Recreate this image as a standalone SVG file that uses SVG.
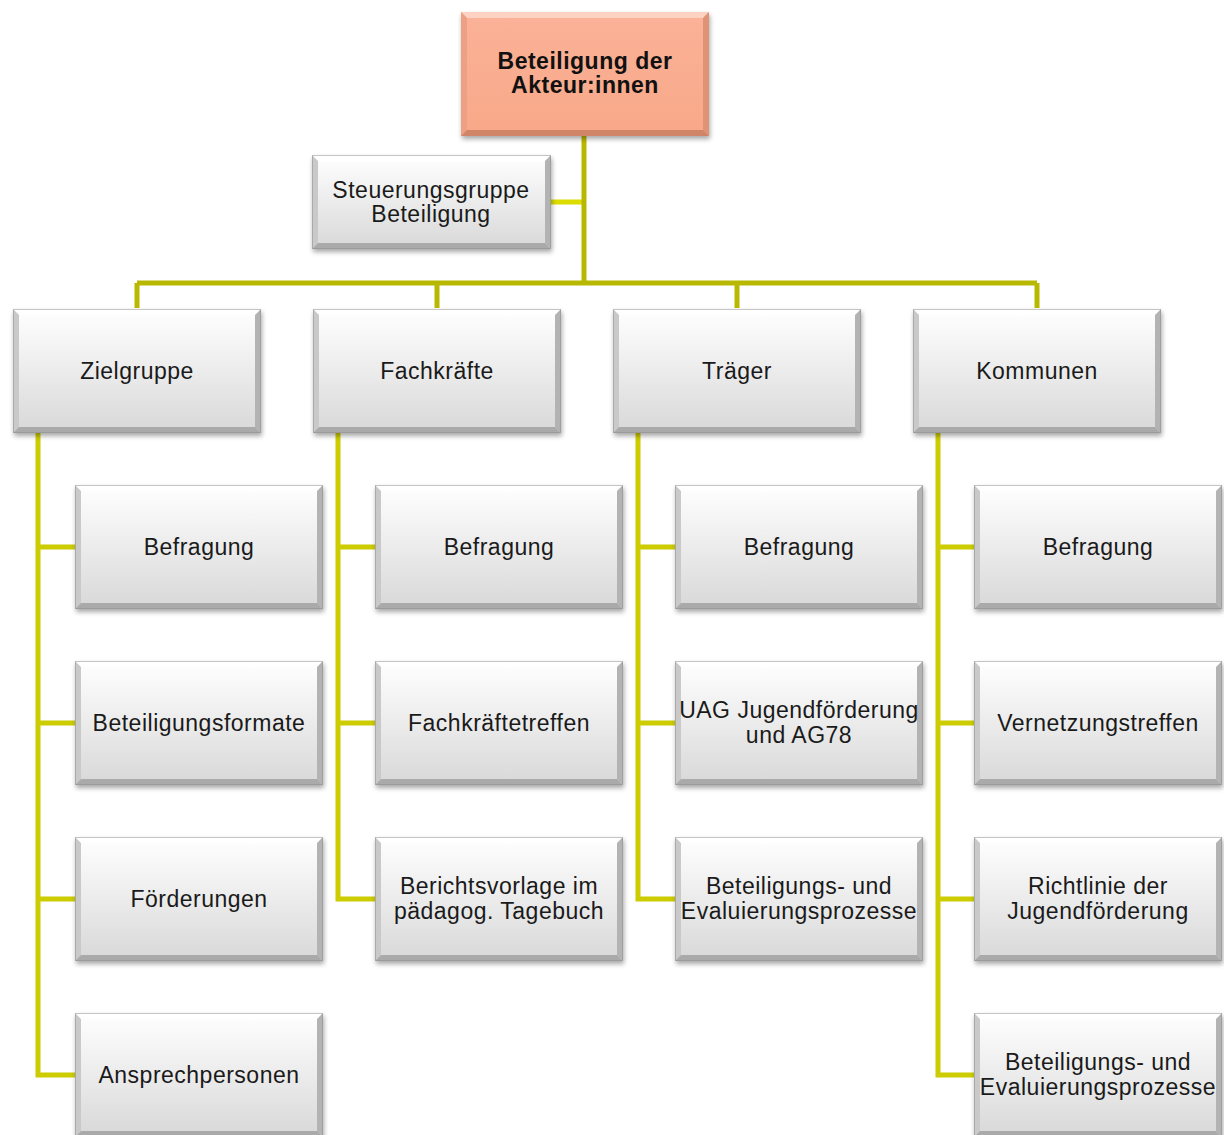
<svg xmlns="http://www.w3.org/2000/svg" xmlns:xlink="http://www.w3.org/1999/xlink" width="1224" height="1135" viewBox="0 0 1224 1135">
<defs>
  <linearGradient id="gFill" x1="0" y1="0" x2="0" y2="1">
    <stop offset="0" stop-color="#ffffff"/>
    <stop offset="1" stop-color="#d8d8d8"/>
  </linearGradient>
  <linearGradient id="sFill" x1="0" y1="0" x2="0" y2="1">
    <stop offset="0" stop-color="#fbb298"/>
    <stop offset="1" stop-color="#f8a888"/>
  </linearGradient>
  <filter id="shadow" x="-10%" y="-10%" width="125%" height="135%">
    <feGaussianBlur in="SourceAlpha" stdDeviation="2.5"/>
    <feOffset dx="1" dy="3" result="b"/>
    <feComponentTransfer><feFuncA type="linear" slope="0.35"/></feComponentTransfer>
    <feMerge><feMergeNode/><feMergeNode in="SourceGraphic"/></feMerge>
  </filter>
  <symbol id="boxG" viewBox="0 0 248 124" width="248" height="124">
    <rect x="0" y="0" width="248" height="124" fill="url(#gFill)"/>
    <polygon points="0,0 248,0 242,6 6,6" fill="#ffffff" opacity="0.8"/>
    <polygon points="0,0 6,6 6,118 0,124" fill="#c9c9c9"/>
    <polygon points="248,0 248,124 242,118 242,6" fill="#b3b3b3"/>
    <polygon points="0,124 6,118 242,118 248,124" fill="#aaaaaa"/>
    <rect x="0.5" y="0.5" width="247" height="123" fill="none" stroke="#8c8c8c" stroke-opacity="0.5"/>
  </symbol>
  <symbol id="boxSmall" viewBox="0 0 239 94" width="239" height="94">
    <rect x="0" y="0" width="239" height="94" fill="url(#gFill)"/>
    <polygon points="0,0 239,0 233,6 6,6" fill="#ffffff" opacity="0.8"/>
    <polygon points="0,0 6,6 6,88 0,94" fill="#c9c9c9"/>
    <polygon points="239,0 239,94 233,88 233,6" fill="#b3b3b3"/>
    <polygon points="0,94 6,88 233,88 239,94" fill="#aaaaaa"/>
    <rect x="0.5" y="0.5" width="238" height="93" fill="none" stroke="#8c8c8c" stroke-opacity="0.5"/>
  </symbol>
  <symbol id="boxS" viewBox="0 0 248 124" width="248" height="124">
    <rect x="0" y="0" width="248" height="124" fill="url(#sFill)"/>
    <polygon points="0,0 248,0 242,6 6,6" fill="#fdd2c2"/>
    <polygon points="0,0 6,6 6,118 0,124" fill="#eea084"/>
    <polygon points="248,0 248,124 242,118 242,6" fill="#e09275"/>
    <polygon points="0,124 6,118 242,118 248,124" fill="#d08468"/>
  </symbol>
</defs>
<style>
  .t { font-family: "Liberation Sans", Arial, sans-serif; font-size: 23px; fill: #1a1a1a; text-anchor: middle; letter-spacing: 0.5px; }
  .tb { font-weight: bold; fill: #111; }
  .c1 { stroke: #b8b800; stroke-width: 5; fill: none; }
  .c2 { stroke: #dcdc00; stroke-width: 5; fill: none; }
  .c3 { stroke: #cccc00; stroke-width: 5; fill: none; }
  .box { filter: url(#shadow); }
</style>

<g id="connectors">
  <path class="c2" d="M551 202 H584"/>
  <path class="c1" d="M584 135 V283"/>
  <path class="c1" d="M137 283 H1037 M137 283 V308 M437 283 V308 M737 283 V308 M1037 283 V308"/>
  <path class="c3" d="M38 432 V1075 H75 M38 547 H75 M38 723 H75 M38 899 H75"/>
  <path class="c3" d="M338 432 V899 H375 M338 547 H375 M338 723 H375"/>
  <path class="c3" d="M638 432 V899 H675 M638 547 H675 M638 723 H675"/>
  <path class="c3" d="M938 432 V1075 H974 M938 547 H974 M938 723 H974 M938 899 H974"/>
</g>

<g id="root"><use class="box" href="#boxS" x="461" y="12"/>
  <text class="t tb" x="585" y="69">Beteiligung der</text><text class="t tb" x="585" y="93">Akteur:innen</text></g>
<g id="steuerung"><use class="box" href="#boxSmall" x="312" y="155"/>
  <text class="t" x="431" y="198">Steuerungsgruppe</text><text class="t" x="431" y="222">Beteiligung</text></g>

<g id="zielgruppe"><use class="box" href="#boxG" x="13" y="309"/><text class="t" x="137" y="379">Zielgruppe</text></g>
<g id="fachkraefte"><use class="box" href="#boxG" x="313" y="309"/><text class="t" x="437" y="379">Fachkräfte</text></g>
<g id="traeger"><use class="box" href="#boxG" x="613" y="309"/><text class="t" x="737" y="379">Träger</text></g>
<g id="kommunen"><use class="box" href="#boxG" x="913" y="309"/><text class="t" x="1037" y="379">Kommunen</text></g>

<g id="z1"><use class="box" href="#boxG" x="75" y="485"/><text class="t" x="199" y="555">Befragung</text></g>
<g id="z2"><use class="box" href="#boxG" x="75" y="661"/><text class="t" x="199" y="731">Beteiligungsformate</text></g>
<g id="z3"><use class="box" href="#boxG" x="75" y="837"/><text class="t" x="199" y="907">Förderungen</text></g>
<g id="z4"><use class="box" href="#boxG" x="75" y="1013"/><text class="t" x="199" y="1083">Ansprechpersonen</text></g>

<g id="f1"><use class="box" href="#boxG" x="375" y="485"/><text class="t" x="499" y="555">Befragung</text></g>
<g id="f2"><use class="box" href="#boxG" x="375" y="661"/><text class="t" x="499" y="731">Fachkräftetreffen</text></g>
<g id="f3"><use class="box" href="#boxG" x="375" y="837"/><text class="t" x="499" y="894">Berichtsvorlage im</text><text class="t" x="499" y="919">pädagog. Tagebuch</text></g>

<g id="t1"><use class="box" href="#boxG" x="675" y="485"/><text class="t" x="799" y="555">Befragung</text></g>
<g id="t2"><use class="box" href="#boxG" x="675" y="661"/><text class="t" x="799" y="718">UAG Jugendförderung</text><text class="t" x="799" y="743">und AG78</text></g>
<g id="t3"><use class="box" href="#boxG" x="675" y="837"/><text class="t" x="799" y="894">Beteiligungs- und</text><text class="t" x="799" y="919">Evaluierungsprozesse</text></g>

<g id="k1"><use class="box" href="#boxG" x="974" y="485"/><text class="t" x="1098" y="555">Befragung</text></g>
<g id="k2"><use class="box" href="#boxG" x="974" y="661"/><text class="t" x="1098" y="731">Vernetzungstreffen</text></g>
<g id="k3"><use class="box" href="#boxG" x="974" y="837"/><text class="t" x="1098" y="894">Richtlinie der</text><text class="t" x="1098" y="919">Jugendförderung</text></g>
<g id="k4"><use class="box" href="#boxG" x="974" y="1013"/><text class="t" x="1098" y="1070">Beteiligungs- und</text><text class="t" x="1098" y="1095">Evaluierungsprozesse</text></g>
</svg>
